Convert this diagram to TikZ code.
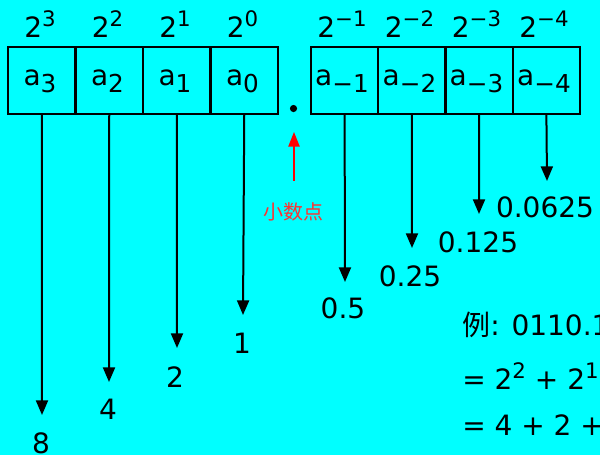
\documentclass[tikz,border=0pt]{standalone}
\usepackage{fontspec}
\setmainfont{DejaVu Sans}
\newfontfamily\cjk{Noto Sans CJK SC}
\usetikzlibrary{arrows.meta}
\definecolor{bg}{HTML}{00FFFF}
\definecolor{lbl}{HTML}{FF3030}
\newcommand\supx[1]{\raisebox{0.38em}{\fontsize{16}{16}\selectfont #1}}
\newcommand\subx[1]{\raisebox{-0.28em}{\fontsize{18.5}{18.5}\selectfont #1}}
\tikzset{
  cell/.style={draw, line width=1.5pt, minimum width=50.6pt, minimum height=50.3pt, inner sep=0pt},
  txt/.style={anchor=base, inner sep=0pt, font=\fontsize{21}{24}\selectfont},
  arr/.style={line width=1.5pt, -{Triangle[length=11pt,width=9pt]}},
  redarr/.style={red, line width=1.1pt, -{Triangle[length=11pt,width=8.5pt]}}
}
\begin{document}
\begin{tikzpicture}[x=0.75pt,y=-0.75pt]
\fill[bg] (0,0) rectangle (600,455);
\useasboundingbox (0,0) rectangle (600,455);
% cells
\node[cell] (c3) at (41.75,80.5) {};
\node[cell] (c2) at (109.25,80.5) {};
\node[cell] (c1) at (176.75,80.5) {};
\node[cell] (c0) at (244.25,80.5) {};
\node[cell] (d1) at (344.6,80.5) {};
\node[cell] (d2) at (411.9,80.5) {};
\node[cell] (d3) at (479.1,80.5) {};
\node[cell] (d4) at (546.4,80.5) {};
% cell texts
\node[txt] (t3) at (40,85) {a\subx{3}};
\node[txt] (t2) at (107.5,85) {a\subx{2}};
\node[txt] (t1) at (175,85) {a\subx{1}};
\node[txt] (t0) at (242.5,85) {a\subx{0}};
\node[txt] (u1) at (342,85) {a\subx{−1}};
\node[txt] (u2) at (409.5,85) {a\subx{−2}};
\node[txt] (u3) at (476.5,85) {a\subx{−3}};
\node[txt] (u4) at (544,85) {a\subx{−4}};
% exponent labels
\node[txt] (p3) at (40,37) {2\supx{3}};
\node[txt] (p2) at (107.5,37) {2\supx{2}};
\node[txt] (p1) at (175,37) {2\supx{1}};
\node[txt] (p0) at (242.5,37) {2\supx{0}};
\node[txt] (q1) at (342,37) {2\supx{−1}};
\node[txt] (q2) at (409.5,37) {2\supx{−2}};
\node[txt] (q3) at (476.5,37) {2\supx{−3}};
\node[txt] (q4) at (544,37) {2\supx{−4}};
% decimal point
\fill (293.5,108.5) circle[radius=3.6];
% arrow ends
\coordinate (e3) at (42,415);
\coordinate (e2) at (109,382);
\coordinate (e1) at (177,348);
\coordinate (e0) at (243,315);
\coordinate (f1) at (345,282);
\coordinate (f2) at (412,248);
\coordinate (f3) at (479,214);
\coordinate (f4) at (547,181);
\draw[arr] (c3.south) -- (e3);
\draw[arr] (c2.south) -- (e2);
\draw[arr] (c1.south) -- (e1);
\draw[arr] (c0.south) -- (e0);
\draw[arr] (d1.south) -- (f1);
\draw[arr] (d2.south) -- (f2);
\draw[arr] (d3.south) -- (f3);
\draw[arr] (d4.south) -- (f4);
% values
\node[txt] (v3) at (41,453) {8};
\node[txt] (v2) at (108,419) {4};
\node[txt] (v1) at (175,387) {2};
\node[txt] (v0) at (242,353) {1};
\node[txt] (w1) at (343,318) {0.5};
\node[txt] (w2) at (410,286) {0.25};
\node[txt] (w3) at (478,252) {0.125};
\node[txt] (w4) at (545,217) {0.0625};
% decimal point label
\coordinate (rs) at (294,181);
\coordinate (re) at (294,132);
\draw[redarr] (rs) -- (re);
\node[anchor=center, text=lbl, font=\cjk\fontsize{15}{17}\selectfont] (lab) at (293,212) {小数点};
% example
\node[txt, anchor=base west] (x1) at (462,335) {{\cjk 例}: 0110.1};
\node[txt, anchor=base west] (x2) at (462,389) {= 2\supx{2} + 2\supx{1}};
\node[txt, anchor=base west] (x3) at (462,435) {= 4 + 2 +};
\end{tikzpicture}
\end{document}
